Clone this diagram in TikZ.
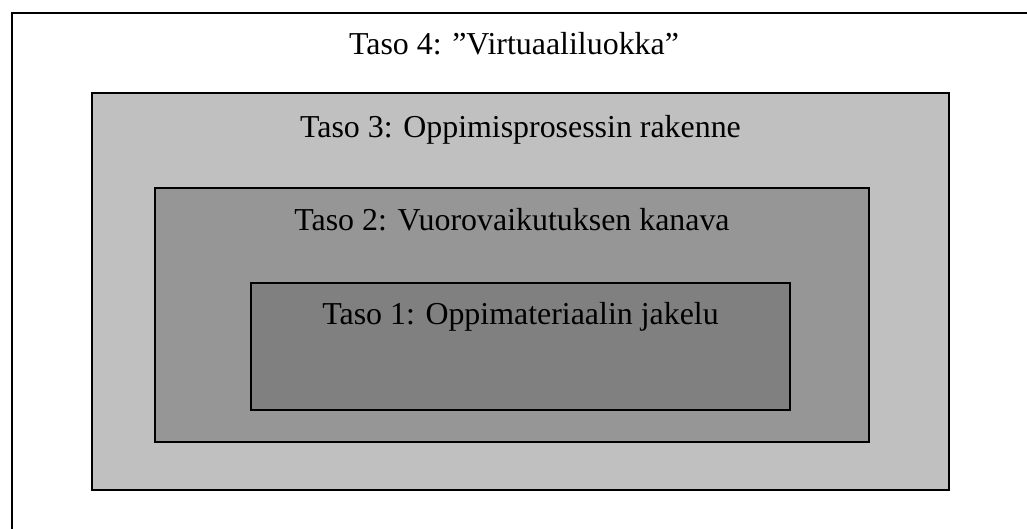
\documentclass[tikz,border=0pt]{standalone}
\usepackage{fontspec}
\setmainfont{Liberation Serif}
\begin{document}
\begin{tikzpicture}[x=1pt,y=-1pt,font=\fontsize{31.9}{38}\selectfont]
\definecolor{tasothree}{HTML}{C0C0C0}
\definecolor{tasotwo}{HTML}{969696}
\definecolor{tasoone}{HTML}{808080}
\tikzset{tasobox/.style={draw=black,line width=2.8pt},
  tasolabel/.style={anchor=base,inner sep=0pt}}
\clip (0,0) rectangle (1027,529);
\fill[white] (0,0) rectangle (1027,529);
% outer frame runs off the page at right and bottom
\draw[black,line width=2.2pt] (12,13) rectangle (1060,560);
\node[tasolabel] (taso4) at (514,55) {Taso 4: ”Virtuaaliluokka”};
\draw[tasobox,fill=tasothree] (92,93) rectangle (949,490);
\node[tasolabel] (taso3) at (520.5,138) {Taso 3: Oppimisprosessin rakenne};
\draw[tasobox,fill=tasotwo] (155,188) rectangle (869,442);
\node[tasolabel] (taso2) at (512,231) {Taso 2: Vuorovaikutuksen kanava};
\draw[tasobox,fill=tasoone] (251,283) rectangle (790,410);
\node[tasolabel] (taso1) at (520.5,324) {Taso 1: Oppimateriaalin jakelu};
\end{tikzpicture}
\end{document}
